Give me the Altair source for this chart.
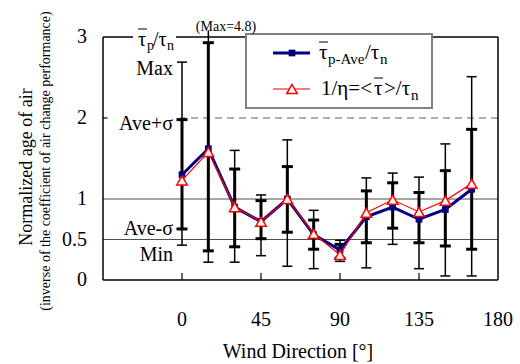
import altair as alt
import pandas as pd

# ---- data ----
directions = [0, 15, 30, 45, 60, 75, 90, 105, 120, 135, 150, 165]
tau_p_ave = [1.30, 1.62, 0.90, 0.72, 1.00, 0.56, 0.37, 0.78, 0.90, 0.75, 0.87, 1.12]
inv_eta = [1.23, 1.58, 0.90, 0.72, 1.00, 0.57, 0.31, 0.83, 0.99, 0.84, 0.98, 1.19]
val_max = [2.69, 4.8, 1.60, 1.05, 1.73, 0.86, 0.49, 1.26, 1.32, 1.27, 1.68, 2.51]
val_ave_plus = [1.98, 2.93, 1.37, 0.98, 1.40, 0.74, 0.44, 1.10, 1.20, 1.08, 1.35, 1.86]
val_ave_minus = [0.63, 0.36, 0.41, 0.51, 0.59, 0.38, 0.27, 0.46, 0.64, 0.46, 0.42, 0.38]
val_min = [0.43, 0.22, 0.22, 0.30, 0.17, 0.14, 0.23, 0.15, 0.44, 0.14, 0.05, 0.05]

x_ticks = [0, 45, 90, 135, 180]
x_tick_labels = ["0", "45", "90", "135", "180"]
x_inner_ticks = [0, 45, 90, 135]
y_ticks = [0, 0.5, 1, 2, 3]
y_tick_labels = ["0", "0.5", "1", "2", "3"]
solid_ref = [0.5, 1]
dashed_ref = [2]

W, H = 395, 243
FONT = "Times New Roman, Liberation Serif, serif"
BLUE = "#000080"
RED = "#ff0000"

df = pd.DataFrame({
    "dir": directions, "tp": tau_p_ave, "ie": inv_eta,
    "mx": val_max, "ap": val_ave_plus, "am": val_ave_minus, "mn": val_min,
})
one = pd.DataFrame({"a": [0]})

xs = alt.Scale(domain=[-45, 180], nice=False, zero=False)
ys = alt.Scale(domain=[0, 3], nice=False)

X = alt.X("dir:Q", scale=xs, axis=None)
base = alt.Chart(df)

# reference lines
ref_solid = alt.Chart(pd.DataFrame({"r": solid_ref})).mark_rule(
    color="#505050", strokeWidth=1.2).encode(y=alt.Y("r:Q", scale=ys, axis=None))
ref_dash = alt.Chart(pd.DataFrame({"r": dashed_ref})).mark_rule(
    color="#606060", strokeWidth=1.2, strokeDash=[7, 5]).encode(
    y=alt.Y("r:Q", scale=ys, axis=None))

# plot border
border = [
    alt.Chart(one).mark_rule(color="black", strokeWidth=1.5).encode(x=alt.value(0)),
    alt.Chart(one).mark_rule(color="black", strokeWidth=1.5).encode(x=alt.value(W)),
    alt.Chart(one).mark_rule(color="black", strokeWidth=1.5).encode(y=alt.value(0)),
    alt.Chart(one).mark_rule(color="black", strokeWidth=1.5).encode(y=alt.value(H)),
]

# inward ticks
xt = alt.Chart(pd.DataFrame({"t": x_inner_ticks})).mark_rule(color="black", strokeWidth=1.2).encode(
    x=alt.X("t:Q", scale=xs, axis=None), y=alt.value(H - 7), y2=alt.value(H))
yt = alt.Chart(pd.DataFrame({"t": dashed_ref})).mark_rule(color="black", strokeWidth=1.2).encode(
    y=alt.Y("t:Q", scale=ys, axis=None), x=alt.value(0), x2=alt.value(4))

# tick labels (through the scales)
xlab = alt.Chart(pd.DataFrame({"t": x_ticks, "s": x_tick_labels})).mark_text(
    font=FONT, fontSize=20, baseline="middle", align="center", color="black").encode(
    x=alt.X("t:Q", scale=xs, axis=None), y=alt.value(H + 40), text="s:N")
ylab = alt.Chart(pd.DataFrame({"t": y_ticks, "s": y_tick_labels})).mark_text(
    font=FONT, fontSize=20, baseline="middle", align="right", color="black").encode(
    y=alt.Y("t:Q", scale=ys, axis=None), x=alt.value(-16), text="s:N")


def wrect(x1, x2, y1, y2, fill="white", stroke=None, sw=0):
    kw = dict(fill=fill)
    if stroke:
        kw.update(stroke=stroke, strokeWidth=sw)
    return alt.Chart(one).mark_rect(**kw).encode(
        x=alt.value(x1), x2=alt.value(x2), y=alt.value(y1), y2=alt.value(y2))


def label(text, x, y, size=20, align="left", angle=0, baseline="middle"):
    kw = dict(text=text, font=FONT, fontSize=size, align=align, baseline=baseline, color="black")
    if angle:
        kw["angle"] = angle
    return alt.Chart(one).mark_text(**kw).encode(x=alt.value(x), y=alt.value(y))


def hline(x1, x2, y, color="black", sw=1.2):
    return alt.Chart(one).mark_rule(color=color, strokeWidth=sw).encode(
        x=alt.value(x1), x2=alt.value(x2), y=alt.value(y))


# error bars
thin_bar = base.transform_calculate(top="min(datum.mx, 3.08)").mark_rule(
    color="black", strokeWidth=1.5).encode(
    x=X, y=alt.Y("mn:Q", scale=ys, axis=None), y2="top:Q")
thick_bar = base.mark_rule(color="black", strokeWidth=3).encode(
    x=X, y=alt.Y("am:Q", scale=ys, axis=None), y2="ap:Q")
cap_max = base.transform_filter("datum.mx <= 3").mark_tick(
    orient="horizontal", size=10, thickness=1.5, color="black", opacity=1).encode(
    x=X, y=alt.Y("mx:Q", scale=ys, axis=None))
cap_min = base.mark_tick(orient="horizontal", size=10, thickness=1.5, color="black", opacity=1).encode(
    x=X, y=alt.Y("mn:Q", scale=ys, axis=None))
cap_ap = base.mark_tick(orient="horizontal", size=11, thickness=3, color="black", opacity=1).encode(
    x=X, y=alt.Y("ap:Q", scale=ys, axis=None))
cap_am = base.mark_tick(orient="horizontal", size=11, thickness=3, color="black", opacity=1).encode(
    x=X, y=alt.Y("am:Q", scale=ys, axis=None))

# series
blue_line = base.mark_line(color=BLUE, strokeWidth=3).encode(x=X, y=alt.Y("tp:Q", scale=ys, axis=None))
blue_pts = base.mark_point(shape="square", filled=True, color=BLUE, size=45, opacity=1).encode(
    x=X, y=alt.Y("tp:Q", scale=ys, axis=None))
red_line = base.mark_line(color=RED, strokeWidth=1.2).encode(x=X, y=alt.Y("ie:Q", scale=ys, axis=None))
red_pts = base.mark_point(shape="triangle-up", filled=True, fill="white", stroke=RED,
                          strokeWidth=1.5, size=110, opacity=1).encode(
    x=X, y=alt.Y("ie:Q", scale=ys, axis=None))

# legend box
legend = [
    wrect(143, 329, -3, 71, fill="white", stroke="#808080", sw=2),
    hline(170, 207, 16, BLUE, 3),
    alt.Chart(one).mark_point(shape="square", filled=True, color=BLUE, size=45, opacity=1).encode(
        x=alt.value(189), y=alt.value(16)),
    hline(170, 207, 52, RED, 1.2),
    alt.Chart(one).mark_point(shape="triangle-up", filled=True, fill="white", stroke=RED,
                              strokeWidth=1.5, size=110, opacity=1).encode(
        x=alt.value(189), y=alt.value(52)),
    # line 1: tau-bar_{p-Ave} / tau_n
    label("τ", 216, 16, size=21),
    hline(216, 225, 5, "black", 1),
    label("p-Ave", 225, 22, size=15),
    label("/τ", 262, 16, size=21),
    label("n", 277, 22, size=15),
    # line 2: 1/eta = <tau-bar> / tau_n
    label("1/η=<", 218, 52, size=21),
    label("τ", 271, 52, size=21),
    hline(271, 280, 41, "black", 1),
    label(">/τ", 281, 52, size=21),
    label("n", 308, 58, size=15),
]

# left key labels
key_bg = [wrect(30, 73, -5, 6), wrect(5, 77, 77, 86)]
key = [
    label("τ", 35, 3),
    label("p", 44, 9, size=14),
    label("/τ", 50, 3),
    label("n", 64, 9, size=14),
    hline(35, 44, -8, "black", 1),
    label("Max", 70, 32, align="right"),
    label("Ave+σ", 70, 87, align="right"),
    label("Ave-σ", 70, 192, align="right"),
    label("Min", 70, 218, align="right"),
    label("(Max=4.8)", 123, -10, size=14, align="center"),
]

# axis titles
titles = [
    label("Normalized age of air", -76, 130, size=18, align="center", angle=270),
    label("(inverse of the coefficient of air change performance)", -57, 124, size=14,
          align="center", angle=270),
    label("Wind Direction [°]", 195, H + 72, size=20, align="center"),
]

layers = ([ref_solid, ref_dash] + border + [xt, yt] + key_bg +
          [thin_bar, thick_bar, cap_max, cap_min, cap_ap, cap_am,
           blue_line, blue_pts, red_line, red_pts] + legend + key +
          [xlab, ylab] + titles)

chart = alt.layer(*layers).properties(
    width=W, height=H,
    autosize=alt.AutoSizeParams(type="none"),
    padding={"left": 103, "top": 37, "right": 22, "bottom": 84},
    background="white",
).configure_view(stroke=None)

chart.save("out.html", embed_options={"renderer": "svg", "actions": False})
